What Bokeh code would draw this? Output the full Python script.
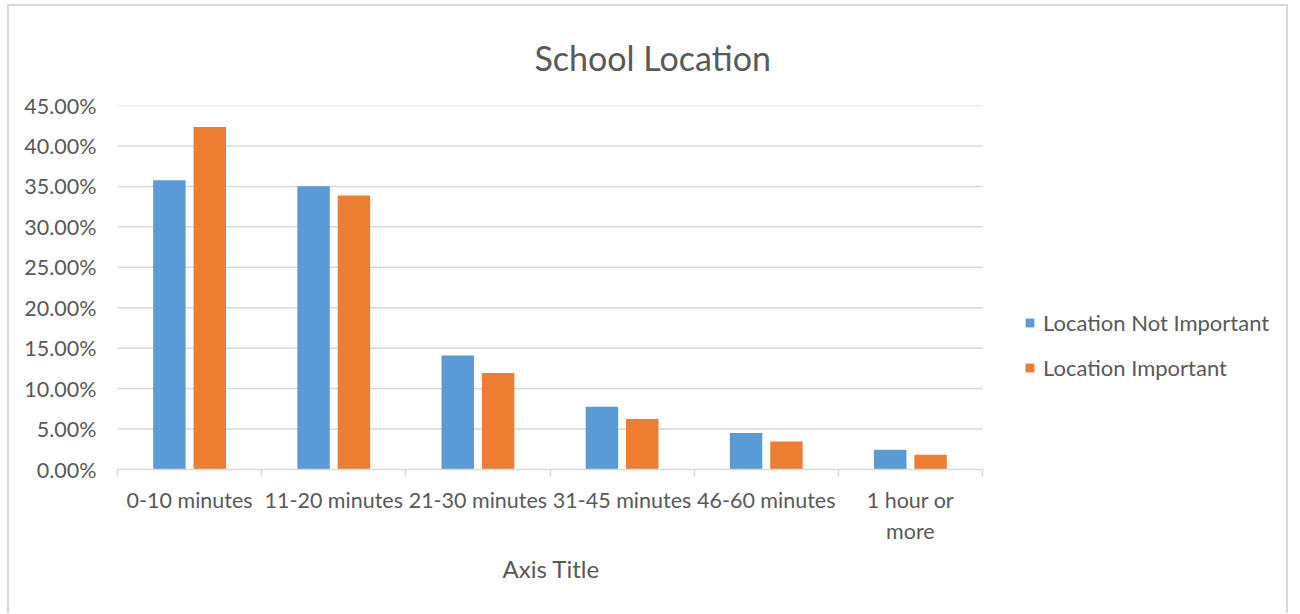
from bokeh.plotting import figure
from bokeh.models import (FixedTicker, NumeralTickFormatter, Range1d, Legend, LegendItem,
                          ColumnDataSource, Title)
from bokeh.transform import dodge
from bokeh.embed import file_html
from bokeh.resources import INLINE

# ---- data ----
categories = ["0-10 minutes", "11-20 minutes", "21-30 minutes", "31-45 minutes",
              "46-60 minutes", "1 hour or more"]
tick_labels = ["0-10 minutes", "11-20 minutes", "21-30 minutes", "31-45 minutes",
               "46-60 minutes", "1 hour or\nmore"]
location_not_important = [0.3575, 0.3501, 0.1409, 0.0777, 0.0452, 0.0243]
location_important = [0.4233, 0.3387, 0.1192, 0.0625, 0.0345, 0.0181]
series_names = ["Location Not Important", "Location Important"]
y_ticks = [0.0, 0.05, 0.10, 0.15, 0.20, 0.25, 0.30, 0.35, 0.40, 0.45]

FONT = "Lato"
TXT = "#595959"
BLUE = "#5B9BD5"
ORANGE = "#ED7D31"
GRID = "#d9d9d9"

# canvas starts at (9, 6) of the page because of the CSS margin + border
OX, OY = 9, 6
W, H = 1281, 609

# plot frame extends to the right edge (legend lives inside it);
# the categories occupy pixels 117..982 of the page
n = len(categories)
x_end = n * (OX + W - 117) / (982 - 117)

pos = [i + 0.5 for i in range(n)]
src = ColumnDataSource(dict(pos=pos, cat=categories,
                            a=location_not_important, b=location_important))

p = figure(width=W, height=H, output_backend="svg", toolbar_location=None,
           x_range=Range1d(0, x_end), y_range=Range1d(0, 0.45),
           min_border_left=117 - OX, min_border_right=0,
           min_border_top=104 - OY, min_border_bottom=(OY + H) - 469,
           styles={"margin-left": "7px", "margin-top": "4px",
                   "border-left": "2px solid #d9d9d9", "border-right": "2px solid #d9d9d9",
                   "border-top": "2px solid #d9d9d9"})
p.outline_line_color = None
p.background_fill_color = "white"
p.border_fill_color = "white"

# horizontal gridlines limited to the category area
grid_y = y_ticks[1:]
p.segment(x0=[0] * len(grid_y), x1=[n] * len(grid_y), y0=grid_y, y1=grid_y,
          line_color=GRID, line_width=1.5)

r1 = p.vbar(x=dodge("pos", -0.14, range=p.x_range), top="a", width=0.225, bottom=0,
            source=src, fill_color=BLUE, line_color=None)
r2 = p.vbar(x=dodge("pos", 0.14, range=p.x_range), top="b", width=0.225, bottom=0,
            source=src, fill_color=ORANGE, line_color=None)

# title
p.title.text = "School Location"
p.title.text_font = FONT
p.title.text_font_size = "34px"
p.title.text_font_style = "normal"
p.title.text_color = TXT
p.title.align = "left"
p.title.offset = 534 - 117
p.title.standoff = 56

# x axis: labels at centres, tick marks at boundaries
xa = p.xaxis[0]
xa.bounds = (0, n)
xa.ticker = FixedTicker(ticks=pos, minor_ticks=list(range(n + 1)))
xa.major_label_overrides = {p_: lab for p_, lab in zip(pos, tick_labels)}
xa.major_tick_line_color = None
xa.major_tick_in = 0
xa.major_tick_out = 0
xa.minor_tick_in = 0
xa.minor_tick_out = 7
xa.minor_tick_line_color = GRID
xa.minor_tick_line_width = 1.5
xa.axis_line_color = GRID
xa.axis_line_width = 1.5
xa.major_label_text_font = FONT
xa.major_label_text_font_size = "21.5px"
xa.major_label_text_color = TXT
xa.major_label_standoff = 10

# axis title, centred under the category area
axis_title = Title(text="Axis Title", text_font=FONT, text_font_size="24px",
                   text_font_style="normal", text_color=TXT, align="left",
                   offset=502 - 117, standoff=11)
p.add_layout(axis_title, "below")

ya = p.yaxis[0]
ya.ticker = FixedTicker(ticks=y_ticks)
ya.formatter = NumeralTickFormatter(format="0.00%")
ya.axis_line_color = None
ya.major_tick_line_color = None
ya.minor_tick_line_color = None
ya.major_tick_in = 0
ya.major_tick_out = 0
ya.major_label_text_font = FONT
ya.major_label_text_font_size = "21.5px"
ya.major_label_text_color = TXT
ya.major_label_standoff = 21

p.xgrid.grid_line_color = None
p.ygrid.grid_line_color = None

legend = Legend(items=[LegendItem(label=series_names[0], renderers=[r1]),
                       LegendItem(label=series_names[1], renderers=[r2])],
                location=(1024 - 117, 88), orientation="vertical",
                label_text_font=FONT, label_text_font_size="22px", label_text_color=TXT,
                glyph_width=11, glyph_height=11, label_standoff=8, label_height=20,
                spacing=18, padding=0, margin=0, border_line_color=None,
                background_fill_alpha=0)
p.add_layout(legend, "center")

open("out.html", "w").write(file_html(p, INLINE))
